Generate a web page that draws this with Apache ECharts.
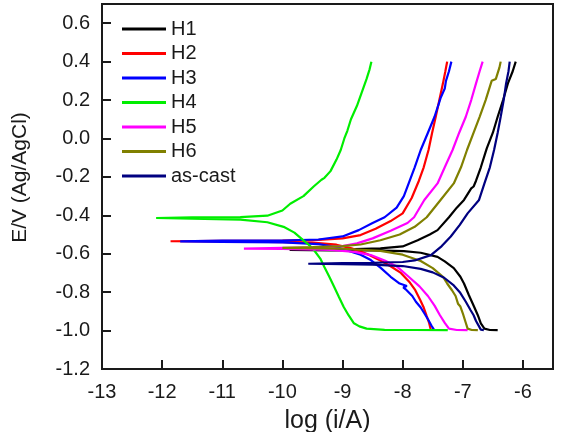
<!DOCTYPE html>
<html>
<head>
<meta charset="utf-8">
<script src="https://cdn.jsdelivr.net/npm/echarts@6/dist/echarts.min.js"></script>
<style>
  html, body { margin: 0; padding: 0; background: #fff; }
  #chart { width: 562px; height: 432px; }
</style>
</head>
<body>
<div id="chart"></div>
<script>
// polarization curves: [log(i/A), E/V]
const seriesNames = ['H1', 'H2', 'H3', 'H4', 'H5', 'H6', 'as-cast'];
const seriesColors = ['#000000', '#ff0000', '#0000ff', '#00ee00', '#ff00ff', '#808000', '#000080'];

const h1 = [
  [-6.42, -0.998], [-6.55, -0.997], [-6.64, -0.99], [-6.7, -0.963], [-6.75, -0.92], [-6.81, -0.877],
  [-6.9, -0.815], [-6.98, -0.755], [-7.04, -0.72], [-7.15, -0.675], [-7.3, -0.64], [-7.42, -0.616],
  [-7.7, -0.595], [-7.98, -0.586], [-8.5, -0.583], [-9.2, -0.582], [-9.88, -0.58],
  [-9.3, -0.578], [-8.8, -0.576], [-8.37, -0.572], [-8.0, -0.562], [-7.75, -0.53], [-7.55, -0.5],
  [-7.42, -0.477], [-7.23, -0.41], [-7.1, -0.36], [-6.98, -0.32], [-6.86, -0.26], [-6.82, -0.25],
  [-6.84, -0.24], [-6.78, -0.22], [-6.7, -0.15], [-6.62, -0.07], [-6.6, -0.05], [-6.5, 0.03],
  [-6.42, 0.113], [-6.33, 0.2], [-6.25, 0.287], [-6.17, 0.35], [-6.12, 0.4]
];
const h2 = [
  [-7.53, -0.998], [-7.56, -0.96], [-7.6, -0.925], [-7.65, -0.88], [-7.71, -0.84], [-7.79, -0.79],
  [-7.88, -0.75], [-8.03, -0.7], [-8.2, -0.665], [-8.37, -0.635], [-8.6, -0.6], [-8.85, -0.572],
  [-9.1, -0.553], [-9.5, -0.542], [-10.5, -0.537], [-11.86, -0.535],
  [-11.0, -0.533], [-10.0, -0.532], [-9.4, -0.528], [-9.0, -0.52], [-8.7, -0.503], [-8.45, -0.47],
  [-8.2, -0.43], [-8.0, -0.39], [-7.85, -0.31], [-7.73, -0.22], [-7.65, -0.15], [-7.57, -0.06],
  [-7.51, 0.03], [-7.45, 0.113], [-7.39, 0.2], [-7.33, 0.287], [-7.29, 0.35], [-7.26, 0.4]
];
const h3 = [
  [-7.48, -0.995], [-7.52, -0.975], [-7.57, -0.946], [-7.64, -0.91], [-7.7, -0.88], [-7.78, -0.85],
  [-7.84, -0.82], [-7.95, -0.785], [-7.99, -0.775], [-7.93, -0.768], [-8.05, -0.755], [-8.2, -0.72],
  [-8.36, -0.675], [-8.53, -0.633], [-8.7, -0.605], [-8.87, -0.588], [-9.1, -0.565], [-9.4, -0.55],
  [-10.0, -0.541], [-11.0, -0.538], [-11.7, -0.536],
  [-11.0, -0.532], [-10.0, -0.531], [-9.4, -0.526], [-9.0, -0.51], [-8.73, -0.477], [-8.5, -0.44],
  [-8.3, -0.41], [-8.1, -0.36], [-7.98, -0.3], [-7.9, -0.234], [-7.8, -0.15], [-7.7, -0.06],
  [-7.58, 0.03], [-7.47, 0.113], [-7.4, 0.18], [-7.37, 0.21], [-7.3, 0.26], [-7.28, 0.3],
  [-7.23, 0.35], [-7.19, 0.4]
];
const h4 = [
  [-7.25, -0.998], [-7.8, -0.997], [-8.3, -0.996], [-8.6, -0.99], [-8.72, -0.978], [-8.81, -0.962],
  [-8.9, -0.92], [-8.98, -0.877], [-9.06, -0.825], [-9.14, -0.772], [-9.22, -0.72], [-9.3, -0.67],
  [-9.37, -0.625], [-9.5, -0.57], [-9.65, -0.53], [-9.8, -0.49], [-9.98, -0.46], [-10.25, -0.436],
  [-10.7, -0.422], [-11.5, -0.417], [-12.1, -0.414],
  [-11.5, -0.411], [-10.7, -0.409], [-10.25, -0.402], [-10.0, -0.375], [-9.87, -0.34], [-9.65, -0.3],
  [-9.48, -0.25], [-9.35, -0.215], [-9.3, -0.205], [-9.2, -0.17], [-9.1, -0.11], [-9.03, -0.06],
  [-8.97, 0.0], [-8.92, 0.04], [-8.94, 0.05], [-8.86, 0.1], [-8.76, 0.17], [-8.68, 0.24],
  [-8.6, 0.31], [-8.55, 0.36], [-8.52, 0.4]
];
const h5 = [
  [-6.92, -0.998], [-7.1, -0.997], [-7.23, -0.99], [-7.3, -0.96], [-7.38, -0.92], [-7.47, -0.87],
  [-7.58, -0.82], [-7.72, -0.77], [-7.9, -0.72], [-8.09, -0.668], [-8.3, -0.635], [-8.53, -0.607],
  [-8.8, -0.59], [-9.2, -0.58], [-10.0, -0.575], [-10.64, -0.573],
  [-10.0, -0.57], [-9.5, -0.568], [-9.0, -0.56], [-8.76, -0.546], [-8.5, -0.52], [-8.2, -0.48],
  [-7.92, -0.44], [-7.81, -0.41], [-7.64, -0.32], [-7.42, -0.234], [-7.3, -0.15], [-7.17, -0.06],
  [-7.06, 0.03], [-6.95, 0.113], [-6.86, 0.2], [-6.78, 0.287], [-6.72, 0.35], [-6.67, 0.4]
];
const h6 = [
  [-6.75, -0.998], [-6.85, -0.997], [-6.92, -0.99], [-6.96, -0.95], [-7.0, -0.91], [-7.04, -0.875],
  [-7.08, -0.86], [-7.05, -0.85], [-7.12, -0.82], [-7.18, -0.79], [-7.26, -0.755], [-7.33, -0.72],
  [-7.5, -0.675], [-7.7, -0.638], [-8.0, -0.605], [-8.37, -0.585], [-9.0, -0.574], [-10.0, -0.569],
  [-9.5, -0.565], [-9.0, -0.56], [-8.7, -0.552], [-8.37, -0.53], [-8.05, -0.5], [-7.8, -0.46],
  [-7.6, -0.41], [-7.37, -0.32], [-7.15, -0.234], [-7.03, -0.15], [-6.93, -0.06], [-6.82, 0.03],
  [-6.72, 0.113], [-6.62, 0.2], [-6.55, 0.27], [-6.52, 0.3], [-6.45, 0.31], [-6.42, 0.34],
  [-6.39, 0.37], [-6.37, 0.4]
];
const asCast = [
  [-6.65, -0.998], [-6.7, -0.995], [-6.73, -0.985], [-6.78, -0.95], [-6.82, -0.92], [-6.87, -0.894],
  [-6.95, -0.85], [-7.05, -0.8], [-7.15, -0.765], [-7.31, -0.725], [-7.5, -0.697], [-7.7, -0.679],
  [-8.0, -0.664], [-8.5, -0.657], [-9.0, -0.654], [-9.57, -0.652],
  [-9.0, -0.649], [-8.5, -0.647], [-8.0, -0.643], [-7.8, -0.635], [-7.53, -0.607], [-7.35, -0.56],
  [-7.2, -0.51], [-7.05, -0.45], [-6.92, -0.39], [-6.73, -0.32], [-6.64, -0.234], [-6.55, -0.15],
  [-6.48, -0.06], [-6.42, 0.03], [-6.37, 0.113], [-6.32, 0.2], [-6.28, 0.287], [-6.24, 0.35],
  [-6.22, 0.4]
];
const curves = [h1, h2, h3, h4, h5, h6, asCast];

const font = '"Liberation Sans", Arial, sans-serif';
const chart = echarts.init(document.getElementById('chart'), null, { renderer: 'canvas' });

chart.setOption({
  animation: false,
  backgroundColor: '#fff',
  textStyle: { fontFamily: font, color: '#1a1a1a' },
  grid: {
    left: 102, top: 4, right: 9, bottom: 63,
    containLabel: false,
    outerBoundsMode: 'none',
    show: true, borderColor: '#1a1a1a', borderWidth: 2
  },
  legend: {
    orient: 'vertical',
    left: 117, top: 14,
    icon: 'rect',
    itemWidth: 44, itemHeight: 3, itemGap: 4.5,
    textStyle: { fontSize: 20, color: '#1a1a1a', fontFamily: font },
    data: seriesNames
  },
  xAxis: {
    type: 'value',
    min: -13, max: -5.5, interval: 1,
    name: 'log (i/A)',
    nameLocation: 'middle', nameGap: 40,
    nameTextStyle: { fontSize: 25, color: '#1a1a1a', fontFamily: font },
    axisLine: { onZero: false, lineStyle: { color: '#1a1a1a', width: 2 } },
    axisTick: { inside: true, length: 9, lineStyle: { color: '#1a1a1a', width: 2 } },
    axisLabel: { fontSize: 20, margin: 13, color: '#1a1a1a', showMaxLabel: false },
    splitLine: { show: false }
  },
  yAxis: {
    type: 'value',
    min: -1.2, max: 0.7, interval: 0.2,
    name: 'E/V (Ag/AgCl)',
    nameLocation: 'middle', nameGap: 71,
    nameTextStyle: { fontSize: 21, color: '#1a1a1a', fontFamily: font, padding: [0, 0, 0, 18] },
    axisLine: { onZero: false, lineStyle: { color: '#1a1a1a', width: 2 } },
    axisTick: { inside: true, length: 9, lineStyle: { color: '#1a1a1a', width: 2 } },
    axisLabel: {
      fontSize: 20, margin: 12, color: '#1a1a1a', showMaxLabel: false,
      formatter: v => (Math.abs(v) < 1e-9 ? 0 : v).toFixed(1)
    },
    splitLine: { show: false }
  },
  series: curves.map((d, i) => ({
    name: seriesNames[i],
    type: 'line',
    data: d,
    symbol: 'none',
    color: seriesColors[i],
    lineStyle: { width: 2.2, color: seriesColors[i] }
  }))
});
</script>
</body>
</html>
